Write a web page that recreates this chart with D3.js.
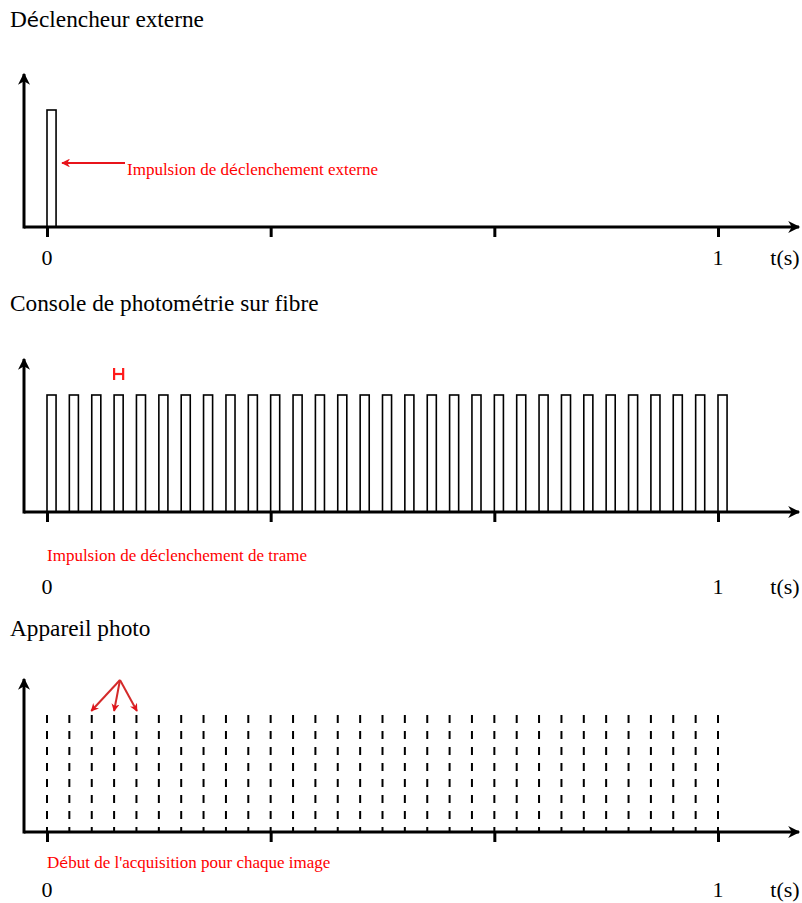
<!DOCTYPE html>
<html>
<head>
<meta charset="utf-8">
<script src="https://cdn.jsdelivr.net/npm/d3@7"></script>
<style>
  body { margin: 0; background: #fff; }
  text { font-family: "Liberation Serif", "Times New Roman", serif; }
  .acc { font-family: "DejaVu Sans", sans-serif; font-size: 0.85em; }
</style>
</head>
<body>
<div id="chart"></div>
<script>
const width = 802, height = 903;

// frame start times (s), 30 Hz acquisition
const frameTimes = [0, 0.0333, 0.0667, 0.1, 0.1333, 0.1667, 0.2, 0.2333, 0.2667, 0.3,
  0.3333, 0.3667, 0.4, 0.4333, 0.4667, 0.5, 0.5333, 0.5667, 0.6, 0.6333,
  0.6667, 0.7, 0.7333, 0.7667, 0.8, 0.8333, 0.8667, 0.9, 0.9333, 0.9667, 1.0];
const triggerTimes = [0];
const pulseWidth = 0.0135;
const tickValues = [0, 1 / 3, 2 / 3, 1];
const tickLabels = [{ t: 0, label: "0" }, { t: 1, label: "1" }];
const pointedFrames = [2, 3, 4];

const titles = [
  ["D", "é", "clencheur externe"],
  ["Console de photom", "é", "trie sur fibre"],
  ["Appareil photo"]
];
const notes = [
  ["Impulsion de d", "é", "clenchement externe"],
  ["Impulsion de d", "é", "clenchement de trame"],
  ["D", "é", "but de l'acquisition pour chaque image"]
];

const panels = [
  { axisY: 227, titleY: 27, labelY: 265, noteY: 175, noteX: 127 },
  { axisY: 512, titleY: 311, labelY: 594, noteY: 561, noteX: 47 },
  { axisY: 832, titleY: 636, labelY: 897, noteY: 868, noteX: 47 }
];

const x = d3.scaleLinear().domain([0, 1]).range([47, 718]);

const svg = d3.select("#chart").append("svg")
  .attr("width", width)
  .attr("height", height)
  .attr("viewBox", [0, 0, width, height]);

const defs = svg.append("defs");
defs.append("marker")
  .attr("id", "arrow-black")
  .attr("viewBox", "0 -5 10 10")
  .attr("refX", 9).attr("refY", 0)
  .attr("markerWidth", 5).attr("markerHeight", 4)
  .attr("markerUnits", "strokeWidth")
  .attr("orient", "auto")
  .append("path").attr("d", "M0,-5L10,0L0,5L3,0Z").attr("fill", "#000");
defs.append("marker")
  .attr("id", "arrow-red")
  .attr("viewBox", "0 -5 10 10")
  .attr("refX", 9).attr("refY", 0)
  .attr("markerWidth", 5).attr("markerHeight", 4)
  .attr("markerUnits", "strokeWidth")
  .attr("orient", "auto")
  .append("path").attr("d", "M0,-5L10,0L0,5L3,0Z").attr("fill", "#e8141b");
defs.append("marker")
  .attr("id", "arrow-dred")
  .attr("viewBox", "0 -5 10 10")
  .attr("refX", 9).attr("refY", 0)
  .attr("markerWidth", 4).attr("markerHeight", 4)
  .attr("markerUnits", "strokeWidth")
  .attr("orient", "auto")
  .append("path").attr("d", "M0,-5L10,0L0,5L3,0Z").attr("fill", "#e0141b");

function richText(g, parts, px, py, size, fill) {
  const t = g.append("text")
    .attr("x", px).attr("y", py)
    .attr("font-size", size)
    .attr("fill", fill);
  parts.forEach(p => {
    t.append("tspan").attr("class", p === "é" ? "acc" : null).text(p);
  });
  return t;
}

panels.forEach((p, i) => {
  const g = svg.append("g");
  const y = d3.scaleLinear().domain([0, 1]).range([p.axisY, p.axisY - 117]);

  richText(g, titles[i], 10, p.titleY, 23.3, "#000");

  // signal
  if (i === 0 || i === 1) {
    const times = i === 0 ? triggerTimes : frameTimes;
    g.append("g").selectAll("rect")
      .data(times)
      .join("rect")
        .attr("x", d => x(d))
        .attr("y", y(1))
        .attr("width", x(pulseWidth) - x(0))
        .attr("height", y(0) - y(1))
        .attr("fill", "none")
        .attr("stroke", "#000")
        .attr("stroke-width", 1.6);
  } else {
    g.append("g").selectAll("line")
      .data(frameTimes)
      .join("line")
        .attr("x1", d => x(d)).attr("x2", d => x(d))
        .attr("y1", y(1)).attr("y2", y(0))
        .attr("stroke", "#000")
        .attr("stroke-width", 2)
        .attr("stroke-dasharray", "8,8");
  }

  // axes
  const axis = g.append("g")
    .attr("transform", `translate(0,${p.axisY})`)
    .call(d3.axisBottom(x).tickValues(tickValues).tickSize(10).tickFormat(""));
  axis.select(".domain").remove();
  axis.selectAll(".tick line").attr("stroke", "#000").attr("stroke-width", 3);

  g.append("line")
    .attr("x1", 24).attr("x2", 799)
    .attr("y1", p.axisY).attr("y2", p.axisY)
    .attr("stroke", "#000").attr("stroke-width", 3)
    .attr("marker-end", "url(#arrow-black)");
  g.append("line")
    .attr("x1", 24).attr("x2", 24)
    .attr("y1", p.axisY + 1.5).attr("y2", p.axisY - 153)
    .attr("stroke", "#000").attr("stroke-width", 3)
    .attr("marker-end", "url(#arrow-black)");

  g.selectAll(".tlabel")
    .data(tickLabels)
    .join("text")
      .attr("class", "tlabel")
      .attr("x", d => x(d.t))
      .attr("y", p.labelY)
      .attr("text-anchor", "middle")
      .attr("font-size", 22)
      .text(d => d.label);
  g.append("text")
    .attr("x", 785).attr("y", p.labelY)
    .attr("text-anchor", "middle")
    .attr("font-size", 22)
    .text("t(s)");

  richText(g, notes[i], p.noteX, p.noteY, 17, "#ff0000");

  if (i === 0) {
    g.append("line")
      .attr("x1", 125).attr("x2", x(pulseWidth) + 6)
      .attr("y1", 163).attr("y2", 163)
      .attr("stroke", "#e8141b").attr("stroke-width", 2.2)
      .attr("marker-end", "url(#arrow-red)");
  }
  if (i === 1) {
    // pulse duration bracket
    const b = g.append("g").attr("stroke", "#ff1a1a").attr("stroke-width", 2.2);
    const x0 = x(frameTimes[3]), x1 = x(frameTimes[3] + pulseWidth);
    b.append("line").attr("x1", x0).attr("x2", x1).attr("y1", 374).attr("y2", 374);
    b.append("line").attr("x1", x0).attr("x2", x0).attr("y1", 368).attr("y2", 380);
    b.append("line").attr("x1", x1).attr("x2", x1).attr("y1", 368).attr("y2", 380);
  }
  if (i === 2) {
    g.append("g").selectAll("line")
      .data(pointedFrames)
      .join("line")
        .attr("x1", 120).attr("y1", 680)
        .attr("x2", d => x(frameTimes[d]) + (d - 3) * 0.5)
        .attr("y2", 711)
        .attr("stroke", "#d42a2a")
        .attr("stroke-width", 2)
        .attr("marker-end", "url(#arrow-dred)");
  }
});
</script>
</body>
</html>
